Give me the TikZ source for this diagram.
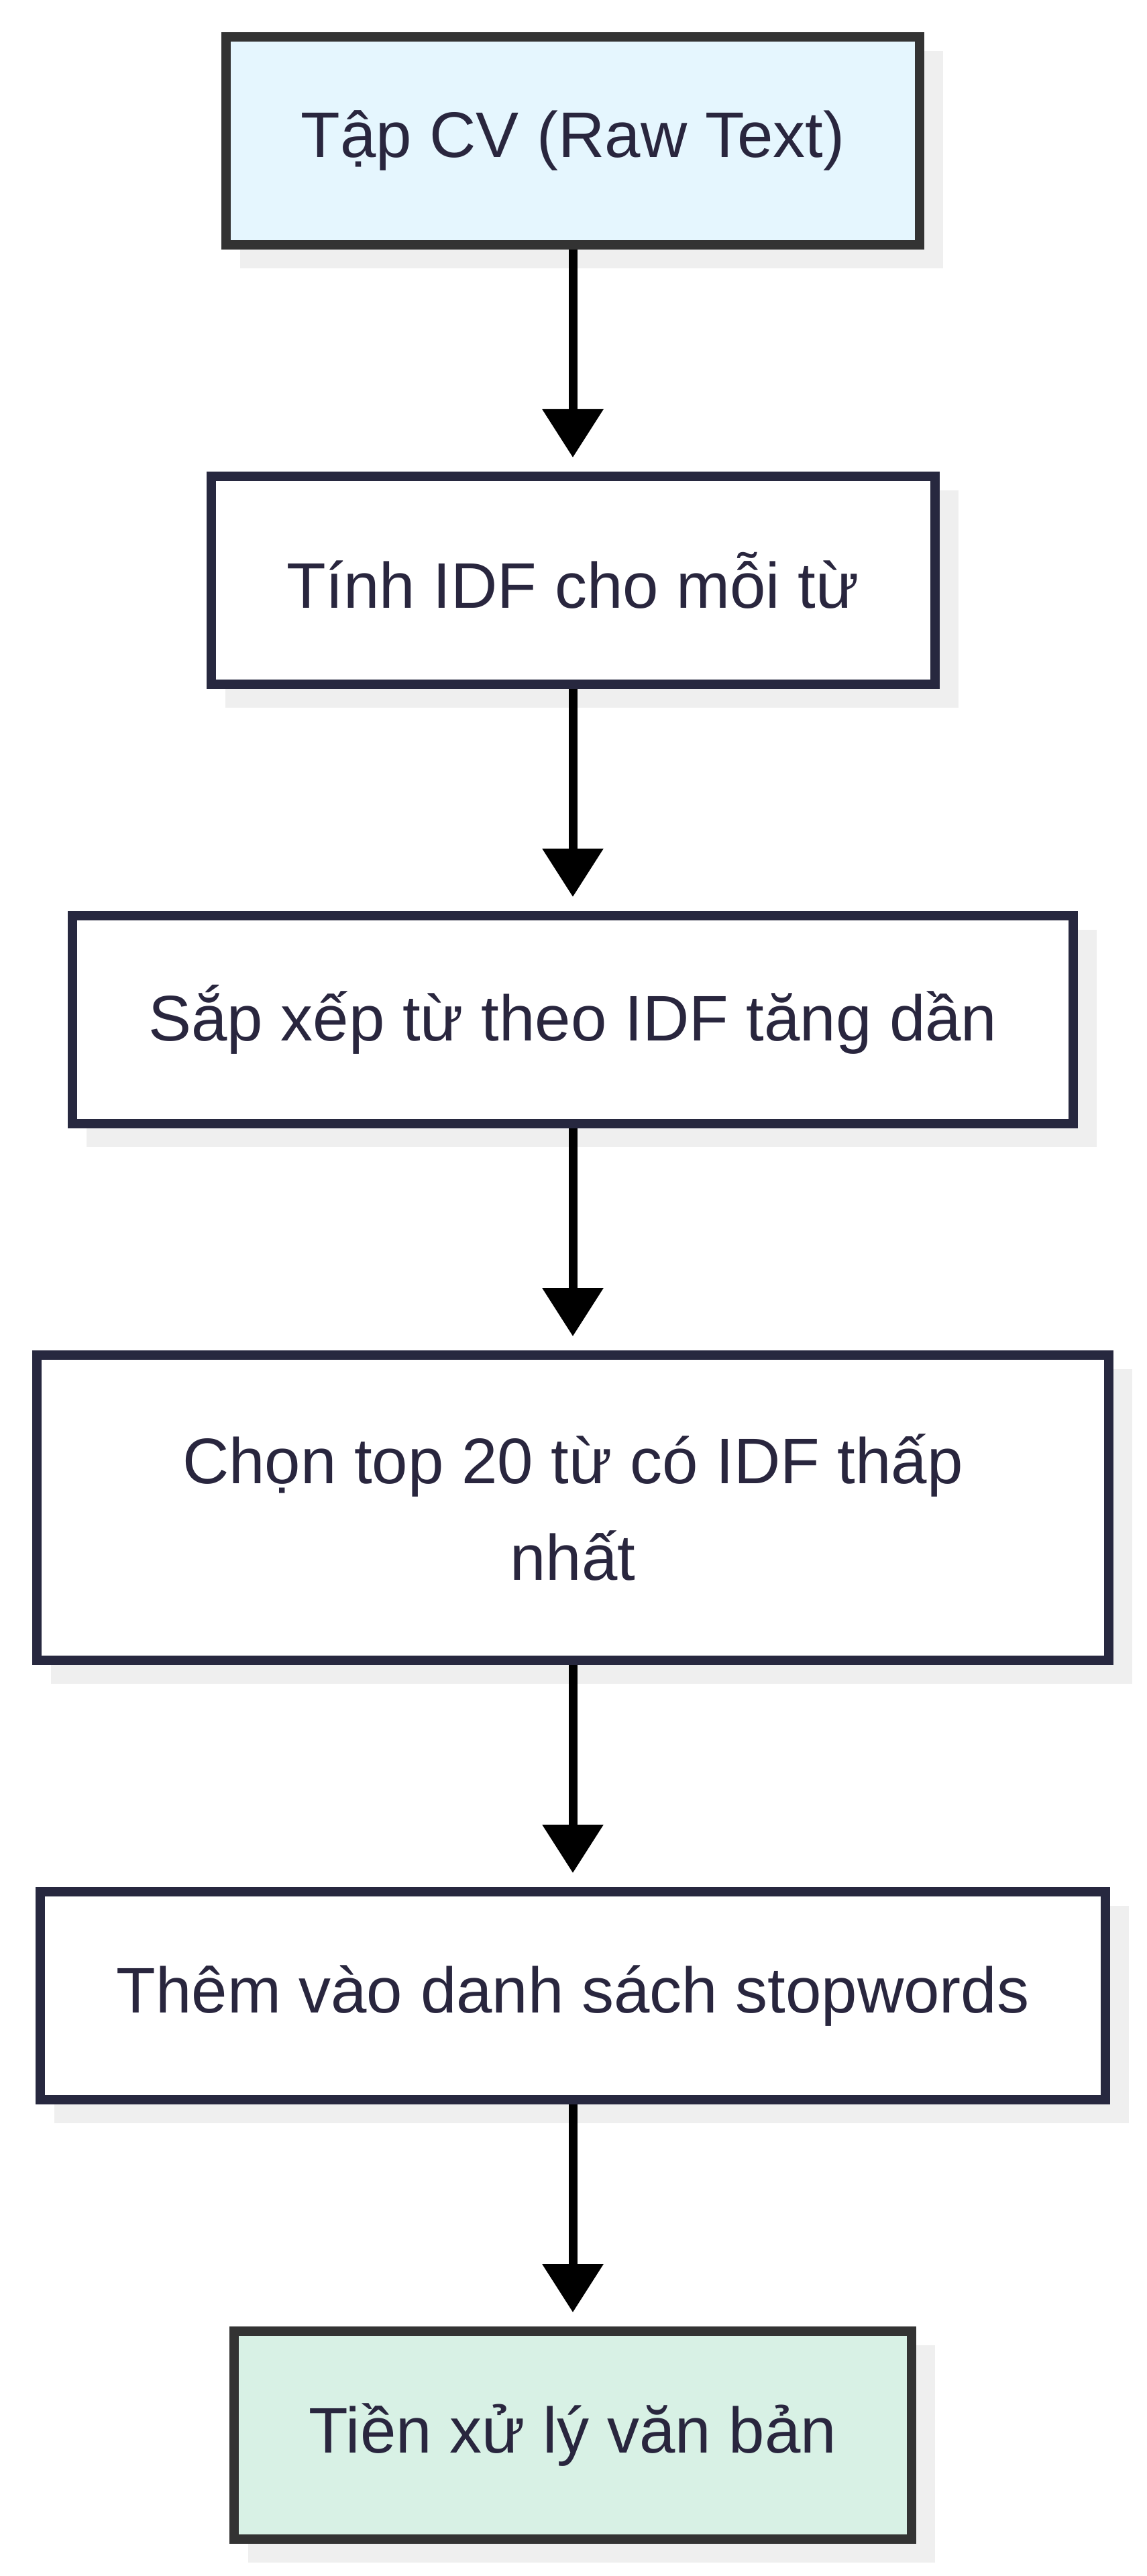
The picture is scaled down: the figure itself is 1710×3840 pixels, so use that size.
\documentclass[tikz,border=0pt]{standalone}
\usepackage{fontspec}
\setmainfont{Liberation Sans}
\usetikzlibrary{arrows.meta,shadows}
\definecolor{navyline}{HTML}{27283F}
\definecolor{navytext}{HTML}{29263E}
\definecolor{greyline}{HTML}{333333}
\definecolor{shadowgrey}{HTML}{EFEFEF}
\definecolor{bluefill}{HTML}{E5F6FE}
\definecolor{greenfill}{HTML}{D8F1E5}
\begin{document}
\begin{tikzpicture}[x=0.25pt,y=-0.25pt,
	stepbox/.style={draw=navyline,fill=white,line width=3.5pt,minimum height=77.5pt,
		text=navytext,align=center,font=\fontsize{24}{36}\selectfont,
		drop shadow={shadow xshift=7pt,shadow yshift=-7pt,fill=shadowgrey,draw=shadowgrey,line width=3.5pt,opacity=1}},
	flow/.style={line width=3.25pt,-{Triangle[width=22pt,length=18pt]},shorten >=5.25pt}]
			\useasboundingbox (0,0) rectangle (1710,3840);
			\node[stepbox,draw=greyline,fill=bluefill,minimum width=258.5pt] (cv) at (854,210) {Tập CV (Raw Text)};
			\node[stepbox,minimum width=269.75pt] (idf) at (854,865) {Tính IDF cho mỗi từ};
			\node[stepbox,minimum width=373pt] (sort) at (854,1520) {Sắp xếp từ theo IDF tăng dần};
			\node[stepbox,minimum width=399.5pt,minimum height=113.75pt] (top) at (854,2247.5) {Chọn top 20 từ có IDF thấp\\nhất};
			\node[stepbox,minimum width=397pt] (stop) at (854,2975) {Thêm vào danh sách stopwords};
			\node[stepbox,draw=greyline,fill=greenfill,minimum width=252.5pt] (prep) at (854,3630) {Tiền xử lý văn bản};
			\draw[flow] (cv) -- (idf);
			\draw[flow] (idf) -- (sort);
			\draw[flow] (sort) -- (top);
			\draw[flow] (top) -- (stop);
			\draw[flow] (stop) -- (prep);
		\end{tikzpicture}
\end{document}
